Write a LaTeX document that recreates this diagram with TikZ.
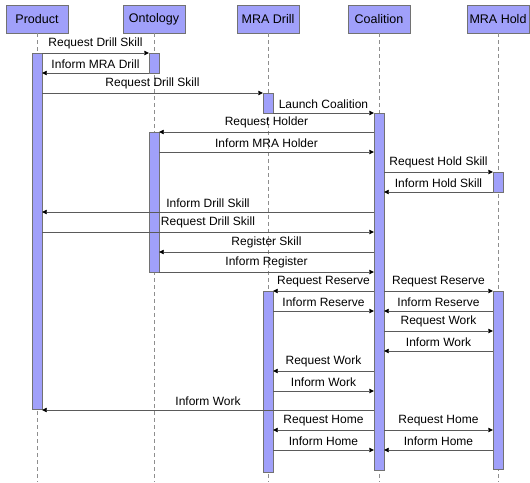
\documentclass[tikz,border=0pt]{standalone}
\usepackage{fontspec}
\setmainfont{Liberation Sans}
\usetikzlibrary{arrows.meta,positioning}
\definecolor{sqFill}{HTML}{A0A0FA}
\definecolor{sqLine}{HTML}{727272}
\definecolor{sqMsg}{HTML}{5A5A5A}
\tikzset{
  actor/.style={rectangle,draw=sqLine,fill=sqFill,
    minimum width=62pt,minimum height=28pt,inner sep=0pt,
    font=\fontsize{12.5}{14}\selectfont},
  actbar/.style={rectangle,draw=sqLine,fill=sqFill,
    minimum width=10pt,inner sep=0pt,anchor=north},
  life/.style={draw=sqLine!80,dash pattern=on 4pt off 3pt},
  msg/.style={-{Triangle[length=4.5pt,width=4.5pt,color=black]},draw=sqMsg},
  lbl/.style={font=\fontsize{12}{14}\selectfont,inner sep=1pt,above=3pt},
}

\begin{document}
\begin{tikzpicture}[x=1pt,y=-1pt]
  \useasboundingbox (0,0) rectangle (530,482);

  % actors
  \node[actor] (prod) at (37,19) {Product};
  \node[actor] (onto) at (154,19) {Ontology};
  \node[actor] (drill) at (268,19) {MRA Drill};
  \node[actor] (coal) at (379,19) {Coalition};
  \node[actor] (hold) at (498,19) {MRA Hold};

  % lifelines
  \foreach \a in {prod,onto,drill,coal,hold}
    \draw[life] (\a.south) -- (\a |- 0,482);

  % activation bars
  \node[actbar,minimum height=356pt] (pA) at (prod |- 0,53) {};
  \node[actbar,minimum height=20pt] (oA) at (onto |- 0,53) {};
  \node[actbar,minimum height=140pt] (oB) at (onto |- 0,132) {};
  \node[actbar,minimum height=20pt] (dA) at (drill |- 0,93) {};
  \node[actbar,minimum height=181pt] (dB) at (drill |- 0,291) {};
  \node[actbar,minimum height=357pt] (cA) at (coal |- 0,113) {};
  \node[actbar,minimum height=20pt] (hA) at (hold |- 0,172) {};
  \node[actbar,minimum height=178pt] (hB) at (hold |- 0,291) {};

  % messages
  \draw[msg] (pA.east |- 0,53) -- node[lbl]{Request Drill Skill} (oA.west |- 0,53);
  \draw[msg] (oA.west |- 0,73) -- node[lbl]{Inform MRA Drill} (pA.east |- 0,73);
  \draw[msg] (pA.east |- 0,93) -- node[lbl]{Request Drill Skill} (dA.west |- 0,93);
  \draw[msg] (dA.east |- 0,113) -- node[lbl]{Launch Coalition} (cA.west |- 0,113);
  \draw[msg] (cA.west |- 0,132) -- node[lbl]{Request Holder} (oB.east |- 0,132);
  \draw[msg] (oB.east |- 0,152) -- node[lbl]{Inform MRA Holder} (cA.west |- 0,152);
  \draw[msg] (cA.east |- 0,172) -- node[lbl]{Request Hold Skill} (hA.west |- 0,172);
  \draw[msg] (hA.west |- 0,192) -- node[lbl]{Inform Hold Skill} (cA.east |- 0,192);
  \draw[msg] (cA.west |- 0,212) -- node[lbl]{Inform Drill Skill} (pA.east |- 0,212);
  \draw[msg] (pA.east |- 0,232) -- node[lbl]{Request Drill Skill} (cA.west |- 0,232);
  \draw[msg] (cA.west |- 0,252) -- node[lbl]{Register Skill} (oB.east |- 0,252);
  \draw[msg] (oB.east |- 0,272) -- node[lbl]{Inform Register} (cA.west |- 0,272);
  \draw[msg] (cA.west |- 0,291) -- node[lbl]{Request Reserve} (dB.east |- 0,291);
  \draw[msg] (cA.east |- 0,291) -- node[lbl]{Request Reserve} (hB.west |- 0,291);
  \draw[msg] (dB.east |- 0,311) -- node[lbl]{Inform Reserve} (cA.west |- 0,311);
  \draw[msg] (hB.west |- 0,311) -- node[lbl]{Inform Reserve} (cA.east |- 0,311);
  \draw[msg] (cA.east |- 0,331) -- node[lbl]{Request Work} (hB.west |- 0,331);
  \draw[msg] (hB.west |- 0,351) -- node[lbl]{Inform Work} (cA.east |- 0,351);
  \draw[msg] (cA.west |- 0,371) -- node[lbl]{Request Work} (dB.east |- 0,371);
  \draw[msg] (dB.east |- 0,391) -- node[lbl]{Inform Work} (cA.west |- 0,391);
  \draw[msg] (cA.west |- 0,410) -- node[lbl]{Inform Work} (pA.east |- 0,410);
  \draw[msg] (cA.west |- 0,430) -- node[lbl]{Request Home} (dB.east |- 0,430);
  \draw[msg] (cA.east |- 0,430) -- node[lbl]{Request Home} (hB.west |- 0,430);
  \draw[msg] (dB.east |- 0,450) -- node[lbl]{Inform Home} (cA.west |- 0,450);
  \draw[msg] (hB.west |- 0,450) -- node[lbl]{Inform Home} (cA.east |- 0,450);
\end{tikzpicture}
\end{document}
